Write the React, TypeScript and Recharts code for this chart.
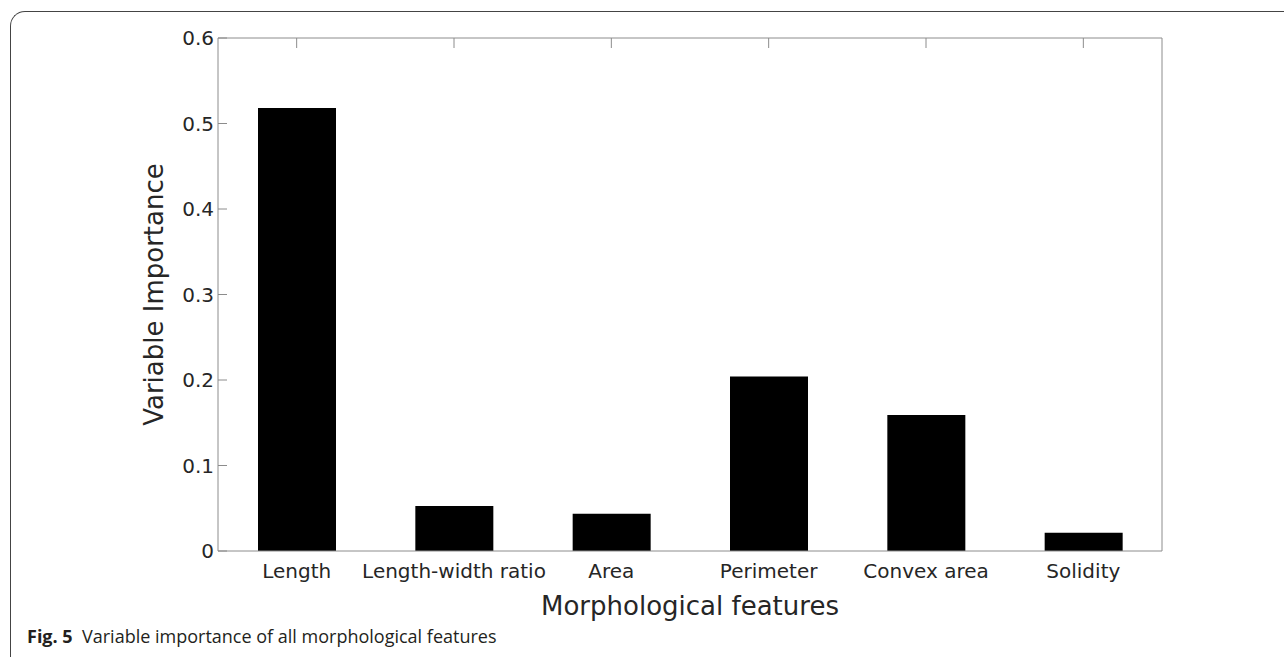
import { BarChart, Bar, XAxis, YAxis, Label } from "recharts";

const features = [
  "Length",
  "Length-width ratio",
  "Area",
  "Perimeter",
  "Convex area",
  "Solidity",
];
const importance = [0.518, 0.0525, 0.0436, 0.204, 0.159, 0.0213];
const yTicks = [0, 0.1, 0.2, 0.3, 0.4, 0.5, 0.6];

const data = features.map((name, i) => ({ name, value: importance[i] }));

const axisColor = "#8c8c8c";
const textColor = "#262626";
const font = "'DejaVu Sans', sans-serif";

const NoTick = () => <g />;

export default function App() {
  return (
    <div
      style={{
        position: "absolute",
        left: 0,
        top: 0,
        width: 1284,
        height: 657,
        background: "#fff",
        overflow: "hidden",
      }}
    >
      {/* figure frame */}
      <div
        style={{
          position: "absolute",
          left: 10,
          top: 11,
          width: 1300,
          height: 700,
          borderTop: "1.5px solid #444",
          borderLeft: "1.5px solid #444",
          borderTopLeftRadius: 15,
        }}
      />

      <BarChart
        width={1284}
        height={657}
        data={data}
        margin={{ top: 37, right: 121, bottom: 36, left: 148 }}
        style={{ position: "absolute", left: 0, top: 0, fontFamily: font }}
      >
        <XAxis
          dataKey="name"
          xAxisId="bottom"
          height={70}
          stroke={axisColor}
          tickLine={false}
          tickSize={0}
          tickMargin={13}
          tick={{ fill: textColor, fontSize: 20 }}
          interval={0}
        >
          <Label
            value="Morphological features"
            position="insideBottom"
            offset={6}
            style={{ fill: textColor, fontSize: 26 }}
          />
        </XAxis>
        <XAxis
          dataKey="name"
          xAxisId="top"
          orientation="top"
          height={1}
          stroke={axisColor}
          tickSize={-10}
          tick={NoTick}
          interval={0}
        />
        <YAxis
          yAxisId="left"
          width={70}
          domain={[0, 0.6]}
          ticks={yTicks}
          stroke={axisColor}
          tickSize={-9}
          tickMargin={13}
          tick={{ fill: textColor, fontSize: 20 }}
          allowDataOverflow
        >
          <Label
            value="Variable Importance"
            angle={-90}
            position="left"
            offset={-6}
            style={{ fill: textColor, fontSize: 26, textAnchor: "middle" }}
          />
        </YAxis>
        <YAxis
          yAxisId="right"
          orientation="right"
          width={1}
          domain={[0, 0.6]}
          ticks={yTicks}
          stroke={axisColor}
          tickSize={-9}
          tick={NoTick}
        />
        <Bar
          dataKey="value"
          xAxisId="bottom"
          yAxisId="left"
          fill="#000"
          barSize={78}
          isAnimationActive={false}
        />
      </BarChart>

      <div
        style={{
          position: "absolute",
          left: 27,
          top: 624,
          fontFamily: "'Open Sans', sans-serif",
          fontSize: 18,
          color: "#231f20",
          whiteSpace: "nowrap",
        }}
      >
        <b>Fig. 5</b>&nbsp; Variable importance of all morphological features
      </div>
    </div>
  );
}
